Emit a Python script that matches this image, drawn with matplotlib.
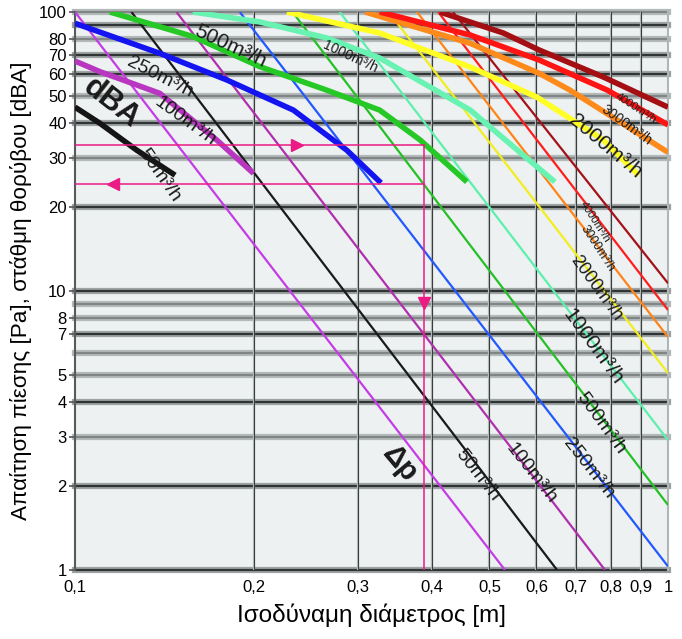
import numpy as np
import matplotlib
matplotlib.use('Agg')
import matplotlib.pyplot as plt

plt.rcParams['font.family'] = ['Liberation Sans', 'DejaVu Sans']

# thin pressure-drop lines (duct diameter [m] -> Pa), flow in m3/h
dp_names = ['25', '50', '100', '250', '500', '1000', '2000', '3000', '4000', '5000']
dp_colors = ['#c43ce6', '#1a1a1a', '#b02fae', '#2358ff', '#25c025', '#5cf0ad',
             '#f2ee1e', '#ff8418', '#ff1e1e', '#a3121a']
dp_d = [[0.1, 0.531], [0.1245, 0.650], [0.1483, 0.783], [0.1896, 1.0], [0.2327, 1.0],
        [0.2795, 1.0], [0.338, 1.0], [0.3773, 1.0], [0.4097, 1.0], [0.434, 1.0]]
dp_p = [[100, 1], [100, 1], [100, 1], [100, 1.03], [100, 1.71],
        [100, 2.92], [100, 5.08], [100, 6.84], [100, 8.55], [100, 10.66]]

# thick noise curves (dBA)
dba_names = ['50', '100', '250', '500', '1000', '2000', '3000', '4000', '5000']
dba_colors = ['#151515', '#b836c0', '#1414f0', '#25c825', '#68f3b2',
              '#ffff26', '#ff8a1c', '#ff1414', '#a30f12']
dba_d = [[0.1, 0.1102, 0.127, 0.1475],
         [0.1, 0.1102, 0.139, 0.1733, 0.2],
         [0.1, 0.139, 0.1802, 0.2335, 0.2871, 0.3281],
         [0.1145, 0.1583, 0.205, 0.2656, 0.3264, 0.3818, 0.458],
         [0.158, 0.205, 0.2659, 0.3264, 0.464, 0.6445],
         [0.2277, 0.3264, 0.464, 0.6004, 0.7776, 0.8921],
         [0.3085, 0.464, 0.6062, 0.6832, 1.0],
         [0.3264, 0.464, 0.6062, 0.7897, 1.0],
         [0.4124, 0.5275, 0.6062, 0.7776, 1.0]]
dba_p = [[45.6, 39.9, 32.0, 26.0],
         [66.7, 61.1, 51.1, 34.8, 26.4],
         [91.1, 71.1, 57.1, 44.5, 32.0, 24.4],
         [100, 81.6, 63.7, 52.5, 44.5, 34.8, 24.6],
         [100, 92.1, 80.7, 68.4, 44.5, 24.6],
         [100, 84.1, 63.5, 49.6, 34.8, 26.0],
         [100, 77.2, 60.3, 52.5, 31.4],
         [100, 82.7, 67.3, 52.5, 39.4],
         [100, 84.1, 73.1, 58.5, 45.6]]

# example reading (pink)
ex_d = 0.3878
ex_dp = 33.4
ex_dba = 24.1

xticks = [0.1, 0.2, 0.3, 0.4, 0.5, 0.6, 0.7, 0.8, 0.9, 1.0]
xlabels = ['0,1', '0,2', '0,3', '0,4', '0,5', '0,6', '0,7', '0,8', '0,9', '1']
yticks = [1, 2, 3, 4, 5, 7, 8, 10, 20, 30, 40, 50, 60, 70, 80, 100]
dark_h = [1, 2, 4, 7, 10, 20, 40, 60, 70, 90]
grey_h = [3, 5, 6, 8, 9, 30, 50, 80, 100]

fig = plt.figure(figsize=(6.82, 6.39), dpi=100)
ax = fig.add_axes([75/682, 1-570/639, 593/682, 558/639])
ax.set_xscale('log')
ax.set_yscale('log')
ax.set_xlim(0.1, 1.0)
ax.set_ylim(1, 100)
ax.set_facecolor('#edf1f1')

for v in grey_h:
    ax.axhline(v, color='#b4baba', lw=4.5, zorder=1, clip_on=False)
    ax.axhline(v, color='#808686', lw=1.6, zorder=1, clip_on=False)
for v in dark_h:
    ax.axhline(v, color='#9ea4a4', lw=4.5, zorder=1, clip_on=False)
    ax.axhline(v, color='#303434', lw=1.6, zorder=1, clip_on=False)
for v in xticks[1:-1]:
    ax.axvline(v, color='#b8bebe', lw=1.6, zorder=1)
    ax.axvline(v, color='#3a3d3d', lw=0.8, zorder=1)
ax.axvline(1.0, color='#b0b6b6', lw=1.5, zorder=1, clip_on=False)

for d, p, c in zip(dp_d, dp_p, dp_colors):
    ax.plot(d, p, color=c, lw=1.6, zorder=3, solid_capstyle='butt')
for d, p, c in zip(dba_d, dba_p, dba_colors):
    ax.plot(d, p, color=c, lw=4.0, zorder=4, solid_capstyle='butt',
            solid_joinstyle='round')

pink = '#ec1a84'
ax.plot([0.1, ex_d], [ex_dp, ex_dp], color=pink, lw=1.1, zorder=5)
ax.plot([0.1, ex_d], [ex_dba, ex_dba], color=pink, lw=1.1, zorder=5)
ax.plot([ex_d, ex_d], [ex_dp, 1], color=pink, lw=1.1, zorder=5)
ax.plot([0.2367], [ex_dp], marker='>', color=pink, ms=8, zorder=6)
ax.plot([0.1159], [ex_dba], marker='<', color=pink, ms=8, zorder=6)
ax.plot([ex_d], [9.06], marker='v', color=pink, ms=8, zorder=6)

def lab(x, y, s, rot, size, weight='normal'):
    ax.text(x, y, s, rotation=rot, fontsize=size, fontweight=weight, color='#1a1a1a',
            ha='center', va='center', rotation_mode='anchor', zorder=7)

lab(0.1825, 75.1, '500m³/h', -25, 15)
lab(0.139, 58.6, '250m³/h', -27, 14)
lab(0.1153, 47.1, 'dBA', -38, 22, 'bold')
lab(0.1533, 40.4, '100m³/h', -36, 14)
lab(0.139, 26.0, '50m³/h', -55, 14)
lab(0.2907, 69.2, '1000m³/h', -25, 10)
lab(0.8837, 45.2, '4000m³/h', -33, 8)
lab(0.8503, 39.4, '3000m³/h', -36, 10)
lab(0.783, 32.9, '2000m³/h', -40, 15)
lab(0.7519, 17.7, '4000m³/h', -57, 8)
lab(0.7615, 14.2, '3000m³/h', -57, 9)
lab(0.7565, 10.2, '2000m³/h', -54, 13)
lab(0.7469, 6.32, '1000m³/h', -54, 15)
lab(0.7694, 3.35, '500m³/h', -54, 14)
lab(0.7337, 2.31, '250m³/h', -52, 14)
lab(0.5884, 2.22, '100m³/h', -52, 14)
lab(0.4766, 2.19, '50m³/h', -52, 14)
lab(0.3532, 2.41, 'Δp', -50, 21, 'bold')

ax.set_xticks(xticks)
ax.set_xticklabels(xlabels)
ax.set_xticks([], minor=True)
ax.set_yticks(yticks)
ax.set_yticklabels([str(v) for v in yticks])
ax.set_yticks([], minor=True)
ax.tick_params(axis='x', length=0, pad=7, labelsize=12)
ax.tick_params(axis='y', length=4, width=1.2, color='#555', pad=2, labelsize=12)
for lbl in ax.get_xticklabels() + ax.get_yticklabels():
    lbl.set_family(['Liberation Sans Narrow', 'Liberation Sans', 'DejaVu Sans'])

for s in ['top', 'right']:
    ax.spines[s].set_visible(False)
ax.spines['left'].set_color('#555a5a')
ax.spines['left'].set_linewidth(1.5)
ax.spines['bottom'].set_visible(False)

ax.set_xlabel('Ισοδύναμη διάμετρος [m]', fontsize=17.5, labelpad=6)
ax.set_ylabel('Απαίτηση πίεσης [Pa], στάθμη θορύβου [dBA]', fontsize=16.2, labelpad=5)

fig.savefig('out.png', dpi=100, facecolor='white')
